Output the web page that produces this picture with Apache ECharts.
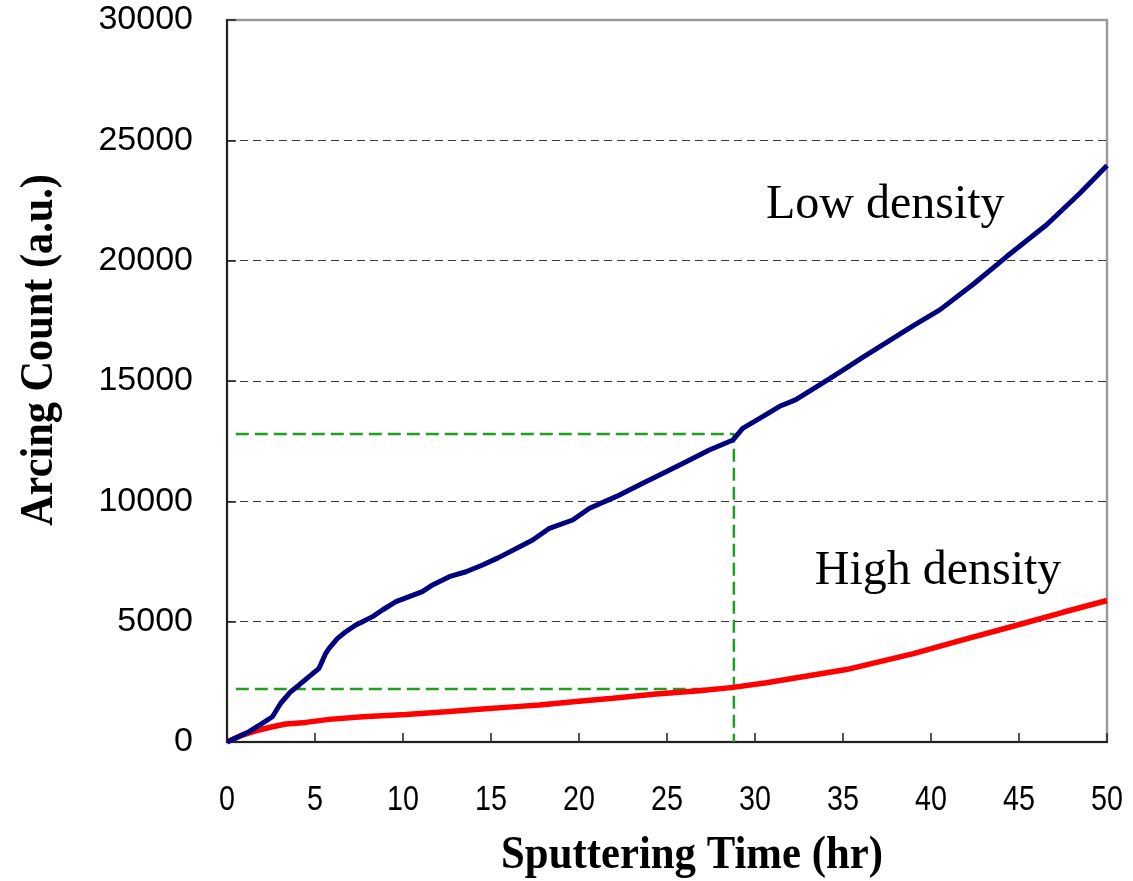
<!DOCTYPE html>
<html>
<head>
<meta charset="utf-8">
<script src="https://cdn.jsdelivr.net/npm/echarts@6/dist/echarts.min.js"></script>
<style>
  html, body { margin: 0; padding: 0; background: #fff; }
  #chart { width: 1133px; height: 881px; }
</style>
</head>
<body>
<div id="chart"></div>
<script>
// Arcing count vs sputtering time for low- and high-density targets
const lowTime = [0, 1.25, 2.0, 2.58, 3.05, 3.62, 4.1, 4.66, 5.23, 5.61, 5.8, 6.28, 6.75, 7.32, 7.7, 8.27, 8.83, 9.6, 10.35, 11.1, 11.68, 12.63, 13.58, 14.52, 15.4, 17.37, 18.32, 19.64, 20.6, 22.1, 23.62, 24.95, 26.09, 27.4, 28.75, 29.3, 30.6, 31.4, 32.3, 34.24, 35.0, 36.14, 39.0, 40.5, 42.4, 44.3, 46.57, 48.46, 50];
const lowCount = [0, 430, 775, 1050, 1610, 2090, 2370, 2715, 3060, 3685, 3890, 4305, 4580, 4860, 5000, 5210, 5485, 5830, 6040, 6250, 6525, 6870, 7075, 7355, 7650, 8395, 8880, 9225, 9710, 10195, 10750, 11230, 11645, 12135, 12550, 13035, 13590, 13950, 14215, 15100, 15450, 15990, 17300, 17955, 19020, 20170, 21490, 22800, 23950];

const highTime = [0, 0.87, 1.82, 2.58, 3.34, 4.48, 5.8, 7.7, 10.17, 12.43, 14.52, 16.42, 17.75, 19.83, 21.92, 24.38, 26.85, 28.75, 30.65, 32.54, 35.19, 39.0, 41.8, 44.66, 47.5, 50];
const highCount = [0, 290, 500, 635, 750, 815, 940, 1050, 1145, 1260, 1370, 1470, 1540, 1680, 1815, 1995, 2130, 2270, 2465, 2690, 3010, 3670, 4240, 4810, 5390, 5880];

// Read-off point at 28.8 hr
const markTime = 28.8;
const markLowCount = 12800;
const markHighCount = 2200;
const guideStart = 0.5;

const xTicks = [0, 5, 10, 15, 20, 25, 30, 35, 40, 45, 50];
const yTicks = [0, 5000, 10000, 15000, 20000, 25000, 30000];

const seriesNames = ['Low density', 'High density'];
const labelPos = [[37.4, 22300], [40.4, 7070]];

const pairs = (xs, ys) => xs.map((x, i) => [x, ys[i]]);

const chart = echarts.init(document.getElementById('chart'), null, { renderer: 'canvas' });

// top grid line is the frame itself, bottom one is the axis
const splitColors = yTicks.map((v, i) => (i === 0 || i === yTicks.length - 1) ? 'rgba(0,0,0,0)' : '#3a3a3a');

const greenStyle = { color: '#1f9f1f', width: 2.5, type: [13, 6] };
const titleFont = 'bold 46px "Liberation Serif", "Times New Roman", serif';

chart.setOption({
  animation: false,
  backgroundColor: '#fff',
  grid: {
    left: 227, right: 26, top: 20, bottom: 139,
    show: true, borderColor: '#9a9a9a', borderWidth: 2.5, backgroundColor: 'transparent'
  },
  xAxis: {
    type: 'value',
    min: xTicks[0], max: xTicks[xTicks.length - 1], interval: 5,
    axisLine: { show: true, onZero: false, lineStyle: { color: '#222', width: 2 } },
    axisTick: { show: true, inside: true, length: 9, lineStyle: { color: '#222', width: 1.5 } },
    splitLine: { show: false },
    // tick labels are drawn as condensed text below
    axisLabel: { show: false }
  },
  yAxis: {
    type: 'value',
    min: yTicks[0], max: yTicks[yTicks.length - 1], interval: 5000,
    axisLine: { show: true, onZero: false, lineStyle: { color: '#222', width: 2 } },
    axisTick: { show: true, inside: true, length: 9, lineStyle: { color: '#222', width: 1.5 } },
    splitLine: { show: true, lineStyle: { color: splitColors, width: 1, type: [8, 5] } },
    axisLabel: {
      margin: 34, color: '#000', fontSize: 34,
      fontFamily: '"Liberation Sans", Arial, sans-serif',
      formatter: (v) => String(v)
    }
  },
  series: [
    {
      name: 'guideLow',
      type: 'line',
      data: [[guideStart, markLowCount], [markTime, markLowCount], [markTime, 0]],
      symbol: 'none', lineStyle: greenStyle, z: 1, silent: true
    },
    {
      name: 'guideHigh',
      type: 'line',
      data: [[guideStart, markHighCount], [markTime, markHighCount]],
      symbol: 'none', lineStyle: greenStyle, z: 1, silent: true
    },
    {
      name: seriesNames[0],
      type: 'line',
      data: pairs(lowTime, lowCount),
      symbol: 'none',
      lineStyle: { color: '#00007f', width: 5 },
      z: 3,
      markPoint: {
        symbol: 'circle', symbolSize: 0,
        label: {
          show: true, position: 'inside', color: '#000', fontSize: 48,
          fontFamily: '"Liberation Serif", "Times New Roman", serif',
          formatter: seriesNames[0]
        },
        data: [{ coord: labelPos[0] }]
      }
    },
    {
      name: seriesNames[1],
      type: 'line',
      data: pairs(highTime, highCount),
      symbol: 'none',
      lineStyle: { color: '#ff0000', width: 5.5 },
      z: 2,
      markPoint: {
        symbol: 'circle', symbolSize: 0,
        label: {
          show: true, position: 'inside', color: '#000', fontSize: 48,
          fontFamily: '"Liberation Serif", "Times New Roman", serif',
          formatter: seriesNames[1]
        },
        data: [{ coord: labelPos[1] }]
      }
    }
  ]
});

// Condensed x tick labels, placed through the x axis scale
const axisY = chart.convertToPixel({ gridIndex: 0 }, [0, 0])[1];
const tickLabels = xTicks.map((t, i) => ({
  id: 'xtick' + i,
  type: 'text',
  x: chart.convertToPixel({ xAxisIndex: 0 }, t),
  y: axisY + 41,
  scaleX: 0.82,
  style: {
    text: String(t), fill: '#000',
    font: '35px "Liberation Sans", Arial, sans-serif',
    align: 'center', verticalAlign: 'top'
  }
}));

chart.setOption({
  graphic: tickLabels.concat([
    {
      id: 'xtitle', type: 'text', x: 692, y: 856, scaleX: 0.93,
      style: { text: 'Sputtering Time (hr)', fill: '#000', font: titleFont, align: 'center', verticalAlign: 'middle' }
    },
    {
      id: 'ytitle', type: 'text', x: 40, y: 350, rotation: Math.PI / 2, scaleX: 0.92,
      style: { text: 'Arcing Count (a.u.)', fill: '#000', font: titleFont, align: 'center', verticalAlign: 'middle' }
    }
  ])
});
</script>
</body>
</html>
